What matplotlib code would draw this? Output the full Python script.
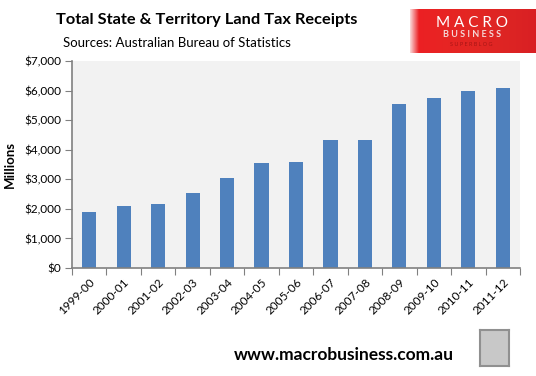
import numpy as np
import matplotlib
matplotlib.use("Agg")
import matplotlib.pyplot as plt
from matplotlib.patches import Rectangle
from matplotlib.ticker import FuncFormatter

# ---------------------------
# Data
# ---------------------------
years = ['1999-00', '2000-01', '2001-02', '2002-03', '2003-04', '2004-05', '2005-06',
         '2006-07', '2007-08', '2008-09', '2009-10', '2010-11', '2011-12']
receipts = [1900, 2100, 2170, 2540, 3050, 3560, 3590,
            4330, 4330, 5550, 5750, 5990, 6090]
y_ticks = [0, 1000, 2000, 3000, 4000, 5000, 6000, 7000]

plt.rcParams['font.family'] = ['Lato', 'DejaVu Sans']

W, H = 536, 376
fig = plt.figure(figsize=(W / 100, H / 100), dpi=100)

# plot area in pixel coords
left, right, top, bottom = 72, 520, 61, 268
ax = fig.add_axes([left / W, 1 - bottom / H, (right - left) / W, (bottom - top) / H])
ax.set_facecolor('#F2F2F2')

x = np.arange(len(years))
ax.bar(x, receipts, width=0.41, color='#4F81BD', zorder=2)
ax.set_xlim(-0.5, len(years) - 0.5)
ax.set_ylim(0, 7000)

for s in ['top', 'right']:
    ax.spines[s].set_visible(False)
for s in ['left', 'bottom']:
    ax.spines[s].set_color('#808080')
    ax.spines[s].set_linewidth(1.2)

ax.set_yticks(y_ticks)
ax.yaxis.set_major_formatter(FuncFormatter(lambda v, p: '${:,.0f}'.format(v)))
ax.tick_params(axis='y', direction='out', length=5, color='#808080', labelsize=8.5, pad=3)

# x ticks at category boundaries, labels at centers
ax.set_xticks(np.arange(len(years) + 1) - 0.5)
ax.set_xticklabels([])
ax.set_xticks(x, minor=True)
ax.set_xticklabels(years, minor=True, rotation=45, ha='right', rotation_mode='anchor', fontsize=8.5)
ax.tick_params(axis='x', which='major', direction='out', length=5, color='#808080')
ax.tick_params(axis='x', which='minor', length=0, pad=6)

ax.set_ylabel('Millions', fontsize=9.5, fontweight='bold', labelpad=6)

# titles
fig.text(207 / W, 1 - 20 / H, 'Total State & Territory Land Tax Receipts',
         ha='center', va='center', fontsize=11.8, fontweight='bold')
fig.text(63 / W, 1 - 43 / H, 'Sources: Australian Bureau of Statistics',
         ha='left', va='center', fontsize=9.5)

# logo box
logo = fig.add_axes([410 / W, 1 - 53 / H, 126 / W, 44 / H])
logo.set_xlim(0, 1)
logo.set_ylim(0, 1)
logo.axis('off')
grad = np.linspace(0, 1, 256)
cols = np.ones((1, 256, 3))
cols[0, :, 0] = 0.93 - 0.08 * grad
cols[0, :, 1] = 0.12 + 0.03 * np.sin(grad * 3)
cols[0, :, 2] = 0.14
fade = np.clip(grad / 0.07, 0, 1)[None, :, None]
cols = cols * fade + (1 - fade) * np.array([0.98, 0.85, 0.85])
logo.imshow(cols, extent=[0, 1, 0, 1], aspect='auto')
logo.text(0.49, 0.69, 'M A C R O', color='white', ha='center', va='center', fontsize=11)
logo.text(0.49, 0.41, 'B U S I N E S S', color='#F4D8D8', ha='center', va='center', fontsize=6.5, fontweight='bold')
logo.text(0.49, 0.19, 'S U P E R B L O G', color='#A81515', ha='center', va='center', fontsize=4)

# footer
fig.text(344 / W, 1 - 355 / H, 'www.macrobusiness.com.au',
         ha='center', va='center', fontsize=12.5, fontweight='bold')
wolf = fig.add_axes([480 / W, 1 - 366 / H, 29 / W, 36 / H])
wolf.set_xticks([])
wolf.set_yticks([])
wolf.set_facecolor('#C8C8C8')
for s in wolf.spines.values():
    s.set_color('#909090')
    s.set_linewidth(1.5)

fig.savefig('out.png', dpi=100)
